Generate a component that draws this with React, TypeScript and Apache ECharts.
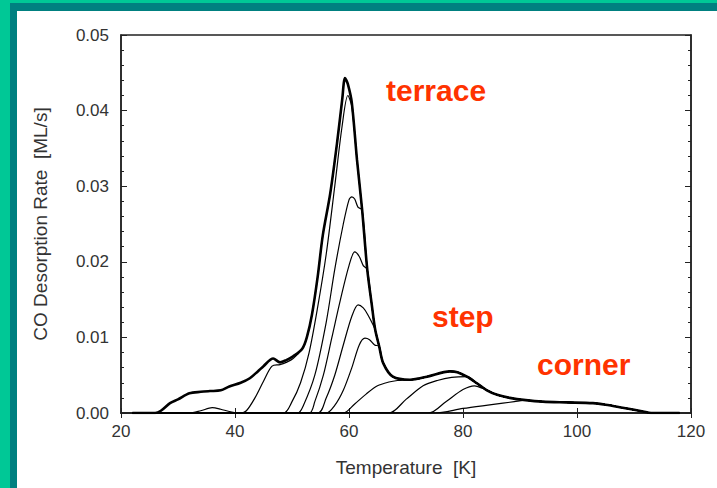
import React, { useEffect, useRef } from "react";
import * as echarts from "echarts";

// Temperature [K] / desorption rate [ML/s] — envelope (highest coverage) curve
const envelopeT = [22, 26, 27, 28.6, 30, 32, 34, 35.6, 37.5, 39, 41, 42.6, 44, 45, 46.7, 47.9, 49, 50.2, 51.8, 52.6, 53.5, 54.5, 55.4, 56.7, 57.9, 58.8, 59.3, 59.8, 60.5, 61.4, 62.3, 63.2, 64.0, 64.6, 65.3, 66, 67.7, 70.7, 73.7, 77.7, 79, 80.7, 82.5, 84.2, 86, 88.2, 91, 94, 98, 102.8, 105, 108, 111.6, 113, 118];
const envelopeY = [0, 0, 0.0003, 0.0013, 0.0018, 0.0026, 0.0028, 0.0029, 0.003, 0.0035, 0.004, 0.0046, 0.0055, 0.0062, 0.0072, 0.0067, 0.007, 0.0075, 0.0085, 0.01, 0.013, 0.018, 0.0235, 0.029, 0.0357, 0.0414, 0.0443, 0.0435, 0.041, 0.0335, 0.0269, 0.019, 0.0143, 0.011, 0.0088, 0.0066, 0.0048, 0.0044, 0.0048, 0.0055, 0.0054, 0.0048, 0.0039, 0.003, 0.0024, 0.002, 0.0017, 0.0015, 0.0014, 0.0013, 0.0011, 0.0007, 0.0002, 0, 0];

// Lower-coverage curves: own leading part, then they follow the envelope from joinT
const curveB_T = [22, 32, 34, 36, 37.5, 39, 41, 42, 43.5, 45, 46.5, 47.9, 49, 50.2];
const curveB_Y = [0, 0, 0.0003, 0.0007, 0.0005, 0.0002, 0, 0.0003, 0.002, 0.0042, 0.0062, 0.0064, 0.0067, 0.0072];
const curveB_join = 51.8;

const curveC_T = [22, 48.5, 50, 51.5, 53, 54.5, 56, 57.5, 58.8, 59.8, 60.5];
const curveC_Y = [0, 0, 0.0015, 0.004, 0.008, 0.014, 0.021, 0.03, 0.038, 0.042, 0.0405];
const curveC_join = 61.4;

const curveD_T = [22, 51, 52, 54, 56, 57.5, 59, 60, 60.5, 61, 61.6];
const curveD_Y = [0, 0, 0.001, 0.005, 0.012, 0.019, 0.025, 0.0282, 0.0286, 0.0283, 0.0272];
const curveD_join = 62.3;

const curveE_T = [22, 53, 54, 55.5, 57, 58.5, 60, 61, 61.8, 62.5];
const curveE_Y = [0, 0, 0.0015, 0.005, 0.01, 0.015, 0.0195, 0.0213, 0.0207, 0.0195];
const curveE_join = 63.2;

const curveF_T = [22, 54.5, 56, 57.5, 59, 60.5, 61.6, 62.5, 63.3];
const curveF_Y = [0, 0, 0.002, 0.005, 0.009, 0.0128, 0.0143, 0.0139, 0.013];
const curveF_join = 64.6;

const curveG_T = [22, 56, 57.5, 59, 60.5, 61.8, 62.8, 63.6, 64.5];
const curveG_Y = [0, 0, 0.001, 0.003, 0.006, 0.009, 0.0099, 0.0097, 0.009];
const curveG_join = 65.3;

const curveH_T = [22, 59, 61, 63, 65, 67, 68.5];
const curveH_Y = [0, 0, 0.0012, 0.0025, 0.0036, 0.0041, 0.0043];
const curveH_join = 70.7;

const curveI_T = [22, 67, 70, 73, 75.5, 78];
const curveI_Y = [0, 0, 0.0018, 0.0036, 0.0043, 0.0047];
const curveI_join = 80.7;

const curveJ_T = [22, 74, 77, 80, 82];
const curveJ_Y = [0, 0, 0.0015, 0.0031, 0.0036];
const curveJ_join = 84.2;

const curveK_T = [22, 75, 80, 85, 89];
const curveK_Y = [0, 0, 0.0006, 0.0011, 0.0015];
const curveK_join = 91;

const xTicks = [20, 40, 60, 80, 100, 120];
const yTicks = [0, 0.01, 0.02, 0.03, 0.04, 0.05];

const labels = [
  { text: "terrace", x: 386, y: 90 },
  { text: "step", x: 432, y: 316 },
  { text: "corner", x: 537, y: 364 },
];

function build(ts: number[], ys: number[], join: number): number[][] {
  const own = ts.map((t, i) => [t, ys[i]]);
  const tail = envelopeT.map((t, i) => [t, envelopeY[i]]).filter((p) => p[0] >= join);
  return own.concat(tail);
}

export default function App() {
  const ref = useRef<HTMLDivElement>(null);
  useEffect(() => {
    if (!ref.current) return;
    const chart = echarts.init(ref.current, undefined, { renderer: "svg" });
    const envelope = envelopeT.map((t, i) => [t, envelopeY[i]]);
    const partials = [
      build(curveB_T, curveB_Y, curveB_join),
      build(curveC_T, curveC_Y, curveC_join),
      build(curveD_T, curveD_Y, curveD_join),
      build(curveE_T, curveE_Y, curveE_join),
      build(curveF_T, curveF_Y, curveF_join),
      build(curveG_T, curveG_Y, curveG_join),
      build(curveH_T, curveH_Y, curveH_join),
      build(curveI_T, curveI_Y, curveI_join),
      build(curveJ_T, curveJ_Y, curveJ_join),
      build(curveK_T, curveK_Y, curveK_join),
    ];
    const font = "Liberation Sans, Arial, sans-serif";
    const lineSeries = (data: number[][], w: number) => ({
      type: "line",
      data,
      showSymbol: false,
      symbol: "none",
      smooth: 0.3,
      lineStyle: { color: "#000", width: w },
      xAxisIndex: 0,
      yAxisIndex: 0,
      z: 3,
    });
    chart.setOption({
      animation: false,
      backgroundColor: "#ffffff",
      grid: {
        left: 121,
        right: 26,
        top: 35,
        bottom: 75,
        show: true,
        borderColor: "#222",
        borderWidth: 1.5,
        backgroundColor: "transparent",
      },
      graphic: [
        { type: "rect", shape: { x: 0, y: 0, width: 717, height: 3 }, style: { fill: "#00C896" }, z: 100 },
        { type: "rect", shape: { x: 0, y: 0, width: 10, height: 488 }, style: { fill: "#00C896" }, z: 100 },
        { type: "rect", shape: { x: 10, y: 3, width: 707, height: 8 }, style: { fill: "#008080" }, z: 100 },
        { type: "rect", shape: { x: 10, y: 3, width: 7, height: 485 }, style: { fill: "#008080" }, z: 100 },
        ...labels.map((l) => ({
          type: "text",
          x: l.x,
          y: l.y,
          z: 100,
          style: {
            text: l.text,
            fill: "#FF3300",
            font: `bold 30px ${font}`,
            textAlign: "left",
            textVerticalAlign: "middle",
          },
        })),
      ],
      xAxis: [
        {
          type: "value",
          min: 20,
          max: 120,
          interval: 20,
          position: "bottom",
          name: "Temperature  [K]",
          nameLocation: "middle",
          nameGap: 45,
          nameTextStyle: { color: "#333", fontSize: 19, fontFamily: font },
          axisLine: { show: true, lineStyle: { color: "#222", width: 1.5 } },
          axisTick: { show: true, inside: true, length: 5, lineStyle: { color: "#222" } },
          axisLabel: { color: "#333", fontSize: 17, fontFamily: font, margin: 10 },
          splitLine: { show: false },
        },
        {
          type: "value",
          min: 20,
          max: 120,
          interval: 20,
          position: "top",
          axisLine: { show: true, lineStyle: { color: "#222", width: 1.5 } },
          axisTick: { show: true, inside: true, length: 5, lineStyle: { color: "#222" } },
          axisLabel: { show: false },
          splitLine: { show: false },
        },
      ],
      yAxis: [
        {
          type: "value",
          min: 0,
          max: 0.05,
          interval: 0.01,
          position: "left",
          name: "CO Desorption Rate  [ML/s]",
          nameLocation: "middle",
          nameGap: 71,
          nameRotate: 90,
          nameTextStyle: { color: "#333", fontSize: 19, fontFamily: font },
          axisLine: { show: true, lineStyle: { color: "#222", width: 1.5 } },
          axisTick: { show: true, inside: true, length: 6, lineStyle: { color: "#222" } },
          minorTick: { show: true, splitNumber: 5, length: 3, lineStyle: { color: "#222" } },
          axisLabel: {
            color: "#333",
            fontSize: 17,
            fontFamily: font,
            margin: 12,
            formatter: (v: number) => v.toFixed(2),
          },
          splitLine: { show: false },
          minorSplitLine: { show: false },
        },
        {
          type: "value",
          min: 0,
          max: 0.05,
          interval: 0.01,
          position: "right",
          axisLine: { show: true, lineStyle: { color: "#222", width: 1.5 } },
          axisTick: { show: true, inside: true, length: 6, lineStyle: { color: "#222" } },
          minorTick: { show: true, splitNumber: 5, length: 3, lineStyle: { color: "#222" } },
          axisLabel: { show: false },
          splitLine: { show: false },
          minorSplitLine: { show: false },
        },
      ],
      series: [
        ...partials.map((d) => lineSeries(d, 1.2)),
        lineSeries(envelope, 2.6),
      ],
    });
    return () => chart.dispose();
  }, []);
  return (
    <div
      ref={ref}
      style={{ position: "fixed", left: 0, top: 0, width: 717, height: 488, background: "#fff" }}
    />
  );
}
